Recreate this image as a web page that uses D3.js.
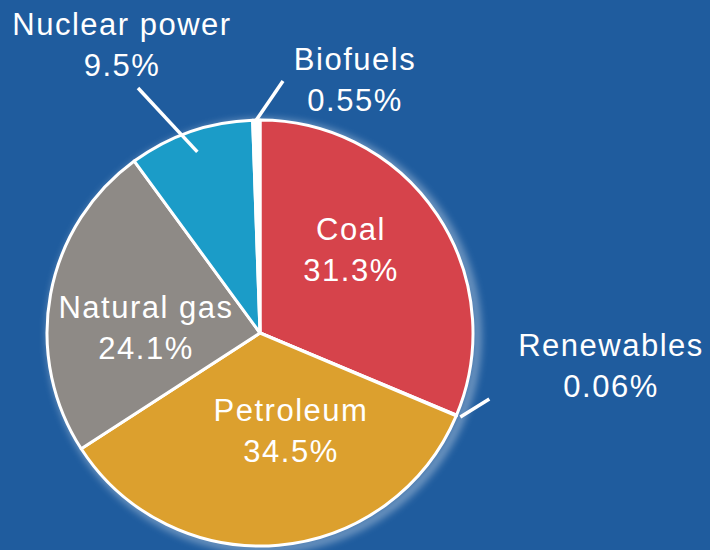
<!DOCTYPE html>
<html>
<head>
<meta charset="utf-8">
<script src="https://cdn.jsdelivr.net/npm/d3@7"></script>
<style>
  body { margin: 0; background: #1f5c9e; }
  svg { display: block; }
  text { font-family: "Liberation Sans", Arial, sans-serif; fill: #fff; letter-spacing: 1.5px; }
</style>
</head>
<body>
<div id="chart"></div>
<script>
// data, clockwise from 12 o'clock
var sources = ["Coal", "Renewables", "Petroleum", "Natural gas", "Nuclear power", "Biofuels"];
var shares = [31.3, 0.06, 34.5, 24.1, 9.5, 0.55];
var colors = ["#d6434b", "#ffffff", "#dca02e", "#8e8a86", "#1b9cc8", "#ffffff"];

var width = 710, height = 550;
var cx = 260, cy = 333, radius = 213;

var svg = d3.select("#chart").append("svg")
    .attr("width", width)
    .attr("height", height);

svg.append("rect").attr("width", width).attr("height", height).attr("fill", "#1f5c9e");

// soft glow on the right side of the pie
var defs = svg.append("defs");
defs.append("filter").attr("id", "glow")
    .attr("x", "-20%").attr("y", "-20%").attr("width", "140%").attr("height", "140%")
  .append("feGaussianBlur").attr("stdDeviation", 4);

var g = svg.append("g").attr("transform", "translate(" + cx + "," + cy + ")");

g.append("circle")
    .attr("cx", 4).attr("cy", 3)
    .attr("r", radius)
    .attr("fill", "none")
    .attr("stroke", "#ffffff")
    .attr("stroke-width", 6)
    .attr("opacity", 0.55)
    .attr("filter", "url(#glow)");

var data = sources.map(function(s, i) { return { name: s, value: shares[i], color: colors[i] }; });

var pie = d3.pie().sort(null).value(function(d) { return d.value; });
var arcs = pie(data);

var arcGen = d3.arc().innerRadius(0).outerRadius(radius);

g.selectAll("path.slice")
  .data(arcs)
  .enter()
  .append("path")
    .attr("class", "slice")
    .attr("d", arcGen)
    .attr("fill", function(d) { return d.data.color; })
    .attr("stroke", "#ffffff")
    .attr("stroke-width", 3)
    .attr("stroke-linejoin", "round");

// labels inside the big slices (page coords)
var insideLabels = {
  "Coal": [351, 240],
  "Petroleum": [291, 421],
  "Natural gas": [146, 318]
};
// labels outside, with leader line
var outsideLabels = {
  "Nuclear power": { pos: [122, 35], frac: 0.9, end: [138, 88] },
  "Biofuels": { pos: [355, 70], frac: 1.0, end: [283, 81] },
  "Renewables": { pos: [611, 356], frac: 1.02, vec: [29, -18] }
};

arcs.forEach(function(d) {
  var name = d.data.name;
  var pct = d.data.value + "%";
  var p = insideLabels[name] || (outsideLabels[name] && outsideLabels[name].pos);
  if (!p) return;
  var t = svg.append("text")
      .attr("x", p[0])
      .attr("y", p[1])
      .attr("text-anchor", "middle")
      .style("font-size", "31px");
  t.append("tspan").attr("x", p[0]).text(name);
  t.append("tspan").attr("x", p[0]).attr("dy", 41).text(pct);

  var o = outsideLabels[name];
  if (o) {
    var mid = (d.startAngle + d.endAngle) / 2;
    var r = radius * o.frac;
    var x1 = cx + r * Math.sin(mid), y1 = cy - r * Math.cos(mid);
    var x2, y2;
    if (o.end) { x2 = o.end[0]; y2 = o.end[1]; }
    else { x2 = x1 + o.vec[0]; y2 = y1 + o.vec[1]; }
    svg.append("line")
      .attr("x1", x1).attr("y1", y1)
      .attr("x2", x2).attr("y2", y2)
      .attr("stroke", "#ffffff")
      .attr("stroke-width", 3.5);
  }
});
</script>
</body>
</html>
